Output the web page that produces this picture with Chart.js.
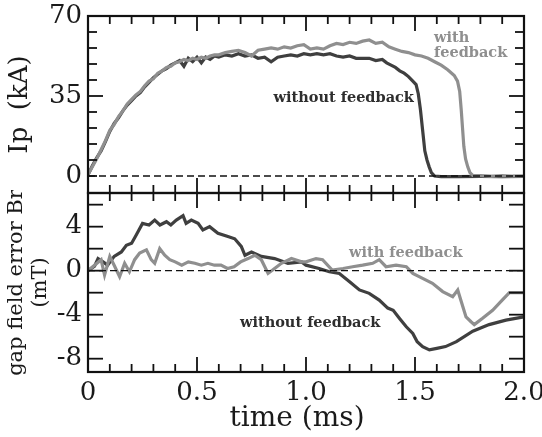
<!DOCTYPE html>
<html>
<head>
<meta charset="utf-8">
<script src="https://cdn.jsdelivr.net/npm/chart.js@4/dist/chart.umd.min.js"></script>
<style>
  html, body { margin: 0; padding: 0; background: #fff; }
  #wrap { position: relative; width: 542px; height: 437px; }
  #wrap canvas { position: absolute; left: 0; }
  #cv-ip { top: 0; }
  #cv-br { top: 190px; }
</style>
</head>
<body>
<div id="wrap">
  <canvas id="cv-ip" width="542" height="196"></canvas>
  <canvas id="cv-br" width="542" height="247"></canvas>
</div>
<script>
// ── Data ─────────────────────────────────────────────────
const ipTimeWithout = [0, 0.02, 0.04, 0.06, 0.08, 0.10, 0.12, 0.14, 0.16, 0.18, 0.20, 0.22, 0.24, 0.26, 0.28, 0.30, 0.32, 0.34, 0.36, 0.38, 0.40, 0.42, 0.44, 0.46, 0.48, 0.50, 0.52, 0.54, 0.56, 0.58, 0.60, 0.63, 0.66, 0.69, 0.72, 0.75, 0.78, 0.81, 0.84, 0.87, 0.90, 0.93, 0.96, 0.99, 1.02, 1.05, 1.08, 1.11, 1.14, 1.17, 1.20, 1.23, 1.26, 1.29, 1.32, 1.35, 1.37, 1.39, 1.41, 1.43, 1.45, 1.47, 1.49, 1.505, 1.515, 1.525, 1.535, 1.545, 1.555, 1.565, 1.575, 1.59, 1.62, 1.70, 1.80, 1.90, 2.00];
const ipWithout = [0.5, 4.5, 8, 11, 15, 19.5, 23, 25.5, 28.5, 31, 33, 35, 36.5, 39, 41, 43, 44.5, 46, 47, 48.5, 49.5, 50.5, 48, 51.5, 50, 52, 49.5, 52, 51, 52.5, 52, 53, 52.5, 53.5, 52.5, 53, 51.5, 52, 50, 52, 52.5, 53, 52.5, 53.5, 53, 53.5, 53, 53.5, 52.5, 52, 52.5, 51.5, 51.5, 51.5, 50.5, 51, 49.5, 48.5, 47.5, 46, 45, 43.5, 41.5, 40, 36, 29, 20, 11, 7, 4, 1.5, 0, -0.3, -0.3, -0.2, -0.3, -0.2];

const ipTimeWith = [0, 0.02, 0.04, 0.06, 0.08, 0.10, 0.12, 0.14, 0.16, 0.18, 0.20, 0.22, 0.24, 0.26, 0.28, 0.30, 0.32, 0.34, 0.36, 0.38, 0.40, 0.42, 0.44, 0.46, 0.48, 0.50, 0.52, 0.54, 0.56, 0.58, 0.60, 0.63, 0.66, 0.69, 0.72, 0.75, 0.78, 0.81, 0.84, 0.87, 0.90, 0.93, 0.96, 0.99, 1.02, 1.05, 1.08, 1.11, 1.14, 1.17, 1.20, 1.23, 1.26, 1.29, 1.32, 1.35, 1.38, 1.41, 1.44, 1.47, 1.50, 1.53, 1.56, 1.59, 1.62, 1.65, 1.68, 1.695, 1.705, 1.712, 1.718, 1.724, 1.732, 1.742, 1.752, 1.765, 1.80, 1.85, 1.90, 1.95, 2.00];
const ipWith = [0.5, 4, 7.5, 11.5, 15.5, 20, 22.5, 26, 28.5, 31.5, 33.5, 35.5, 37, 39.5, 41.5, 42.5, 45, 46, 47.5, 48, 49.5, 50, 51, 50.5, 51.5, 51, 52, 51.5, 52.5, 53, 53, 54, 54.5, 55, 54, 52.5, 55, 55.5, 56, 55.5, 56.5, 56, 57, 57.5, 55.5, 56, 55.5, 57, 58, 57.5, 58.5, 58, 59, 59.5, 58, 58.5, 56.5, 55.5, 54.5, 54, 53, 52.5, 51.5, 50, 48.5, 46.5, 44, 41.5, 37, 29, 21, 13, 7.5, 4, 1.5, 0.3, 0.2, -0.2, 0.2, -0.1, 0];

const brTimeWithout = [0, 0.03, 0.046, 0.069, 0.09, 0.12, 0.153, 0.176, 0.20, 0.22, 0.25, 0.28, 0.306, 0.33, 0.36, 0.38, 0.405, 0.436, 0.45, 0.474, 0.505, 0.527, 0.558, 0.596, 0.642, 0.673, 0.703, 0.72, 0.75, 0.795, 0.856, 0.917, 0.98, 1.0, 1.06, 1.107, 1.153, 1.20, 1.245, 1.29, 1.336, 1.375, 1.40, 1.43, 1.46, 1.49, 1.51, 1.535, 1.566, 1.60, 1.64, 1.69, 1.765, 1.84, 1.917, 2.0];
const brWithout = [0, 0.4, 1.1, 0.8, 0.5, 1.3, 1.7, 2.3, 2.5, 3.2, 4.3, 4.15, 4.6, 4.15, 4.45, 4.15, 4.6, 5.0, 4.3, 4.6, 4.3, 3.7, 4.0, 3.4, 3.1, 2.9, 2.2, 1.4, 1.7, 1.3, 1.1, 0.67, 0.8, 0.5, 0.2, -0.1, -0.25, -1.0, -1.75, -2.06, -2.67, -3.4, -3.6, -4.36, -5.1, -5.7, -6.45, -6.9, -7.2, -7.06, -6.9, -6.45, -5.5, -4.9, -4.5, -4.2];

const brTimeWith = [0, 0.03, 0.06, 0.076, 0.10, 0.12, 0.145, 0.168, 0.19, 0.214, 0.237, 0.268, 0.29, 0.306, 0.329, 0.352, 0.375, 0.40, 0.43, 0.46, 0.49, 0.52, 0.55, 0.58, 0.61, 0.64, 0.67, 0.70, 0.734, 0.765, 0.795, 0.826, 0.856, 0.887, 0.933, 0.98, 1.0, 1.046, 1.076, 1.12, 1.17, 1.214, 1.26, 1.306, 1.336, 1.367, 1.413, 1.46, 1.49, 1.535, 1.58, 1.627, 1.673, 1.696, 1.71, 1.734, 1.757, 1.772, 1.81, 1.856, 1.90, 1.933, 2.0];
const brWith = [0, 0.5, 1.0, -0.4, 1.3, 0.5, -0.55, 0.67, -0.1, 1.0, 1.6, 1.9, 1.0, 0.67, 2.0, 1.4, 1.0, 0.8, 0.5, 0.8, 0.67, 0.5, 0.67, 0.5, 0.5, 0.2, 0.36, 0.8, 1.1, 1.4, 1.0, -0.25, 0.2, 0.67, 1.1, 0.8, 0.8, 1.1, 1.0, 0.06, 0.2, 0.36, 0.5, 0.67, 1.0, 0.36, 0.5, 0.36, -0.25, -0.7, -1.15, -1.9, -2.36, -1.76, -2.67, -4.2, -4.64, -4.9, -4.33, -3.6, -2.67, -2.0, -2.0];

// axis ticks
const timeLabels = [0, 0.5, 1.0, 1.5, 2.0];
const timeMinor = [0.1, 0.2, 0.3, 0.4, 0.6, 0.7, 0.8, 0.9, 1.1, 1.2, 1.3, 1.4, 1.6, 1.7, 1.8, 1.9];
const timeMajor = [0.5, 1.0, 1.5];
const ipLabels = [0, 35, 70];
const ipMinor = [0, 7, 14, 21, 28, 42, 49, 56, 63];
const ipMajor = [35];
const brLabels = [-8, -4, 0, 4];
const brMinor = [];
const brMajor = [6, 4, 2, 0, -2, -4, -6, -8];

const DARK = "#3f3f3f";
const LIGHT = "#8f8f8f";
const SERIF = "'DejaVu Serif', serif";

Chart.defaults.font.family = SERIF;
Chart.defaults.color = "#1a1a1a";

function pts(xs, ys) {
  return xs.map((t, i) => ({ x: t, y: ys[i] }));
}

// inward ticks on all four sides + frame
const frameTicks = {
  id: "frameTicks",
  afterDatasetsDraw(chart, args, opts) {
    const { ctx, chartArea: a } = chart;
    const xs = chart.scales.x, ys = chart.scales.y;
    ctx.save();
    ctx.strokeStyle = "#111";
    ctx.lineWidth = 1.8;
    const seg = (x1, y1, x2, y2) => { ctx.beginPath(); ctx.moveTo(x1, y1); ctx.lineTo(x2, y2); ctx.stroke(); };
    const xTick = (v, len) => {
      const p = xs.getPixelForValue(v);
      seg(p, a.top, p, a.top + len);
      seg(p, a.bottom, p, a.bottom - len);
    };
    const yTick = (v, len) => {
      const p = ys.getPixelForValue(v);
      seg(a.left, p, a.left + len, p);
      seg(a.right, p, a.right - len, p);
    };
    opts.xMinor.forEach(v => xTick(v, 8));
    opts.xMajor.forEach(v => xTick(v, 15));
    opts.yMinor.forEach(v => yTick(v, 9));
    opts.yMajor.forEach(v => yTick(v, 15));
    ctx.lineWidth = 2.2;
    ctx.strokeRect(a.left, a.top, a.right - a.left, a.bottom - a.top);
    ctx.restore();
  }
};

// curve labels placed in data coordinates
const curveLabels = {
  id: "curveLabels",
  afterDatasetsDraw(chart, args, opts) {
    const { ctx } = chart;
    const xs = chart.scales.x, ys = chart.scales.y;
    ctx.save();
    ctx.font = "bold 14.5px " + SERIF;
    ctx.textBaseline = "middle";
    opts.items.forEach(it => {
      ctx.fillStyle = it.color;
      ctx.textAlign = it.align;
      ctx.fillText(it.text, xs.getPixelForValue(it.x), ys.getPixelForValue(it.y));
    });
    ctx.restore();
  }
};

function zeroLine() {
  return {
    data: [{ x: 0, y: 0 }, { x: 2, y: 0 }],
    borderColor: "#111",
    borderWidth: 1.4,
    borderDash: [7, 4],
    pointRadius: 0
  };
}

function curve(data, color) {
  return { data, borderColor: color, borderWidth: 3.2, pointRadius: 0, tension: 0 };
}

// axis boxes are fixed so both panels share the same plot frame
function noPad(s) {
  s.paddingTop = 0; s.paddingBottom = 0; s.paddingLeft = 0; s.paddingRight = 0;
}

function yAxis(min, max, labels, title, titleFont, titlePad) {
  return {
    type: "linear",
    min, max,
    afterFit: s => { s.width = 88; noPad(s); },
    afterBuildTicks: s => { s.ticks = labels.map(v => ({ value: v })); },
    grid: { display: false, drawTicks: false },
    border: { display: false },
    ticks: { font: { size: 26 }, padding: 6, color: "#1a1a1a" },
    title: { display: true, text: title, font: titleFont, padding: titlePad, color: "#1a1a1a" }
  };
}

// ── Top panel: plasma current ──────────────────────────
new Chart(document.getElementById("cv-ip"), {
  type: "line",
  data: {
    datasets: [
      zeroLine(),
      curve(pts(ipTimeWith, ipWith), LIGHT),
      curve(pts(ipTimeWithout, ipWithout), DARK)
    ]
  },
  options: {
    responsive: false,
    animation: false,
    layout: { padding: { top: 16, right: 18, bottom: 3, left: 0 } },
    scales: {
      x: { type: "linear", min: 0, max: 2, display: false },
      y: yAxis(-7.44, 70, ipLabels, "Ip  (kA)", { size: 26, lineHeight: 1.2 }, { top: 5, bottom: 0 })
    },
    plugins: {
      legend: { display: false },
      tooltip: { enabled: false },
      frameTicks: { xMinor: timeMinor, xMajor: timeMajor, yMinor: ipMinor, yMajor: ipMajor },
      curveLabels: {
        items: [
          { text: "without feedback", x: 1.495, y: 34, align: "right", color: "#2e2e2e" },
          { text: "with", x: 1.587, y: 60.4, align: "left", color: LIGHT },
          { text: "feedback", x: 1.587, y: 53.6, align: "left", color: LIGHT }
        ]
      }
    }
  },
  plugins: [frameTicks, curveLabels]
});

// ── Bottom panel: gap field error ───────────────────────
new Chart(document.getElementById("cv-br"), {
  type: "line",
  data: {
    datasets: [
      zeroLine(),
      curve(pts(brTimeWith, brWith), LIGHT),
      curve(pts(brTimeWithout, brWithout), DARK)
    ]
  },
  options: {
    responsive: false,
    animation: false,
    layout: { padding: { top: 3, right: 18, bottom: 0, left: 0 } },
    scales: {
      x: {
        type: "linear",
        min: 0, max: 2,
        afterFit: s => { s.height = 65; noPad(s); },
        afterBuildTicks: s => { s.ticks = timeLabels.map(v => ({ value: v })); },
        grid: { display: false, drawTicks: false },
        border: { display: false },
        ticks: {
          font: { size: 26 }, padding: 6, color: "#1a1a1a", maxRotation: 0,
          callback: v => (v === 0 ? "0" : v.toFixed(1))
        },
        title: { display: true, text: "time (ms)\u00a0\u00a0", font: { size: 28, lineHeight: 1.2 }, padding: { top: 0, bottom: 1 }, color: "#1a1a1a" }
      },
      y: yAxis(-9.21, 7.06, brLabels, ["gap field error Br", "(mT)"], { size: 21, lineHeight: 1.15 }, { top: 4, bottom: 0 })
    },
    plugins: {
      legend: { display: false },
      tooltip: { enabled: false },
      frameTicks: { xMinor: timeMinor, xMajor: timeMajor, yMinor: brMinor, yMajor: brMajor },
      curveLabels: {
        items: [
          { text: "with feedback", x: 1.197, y: 1.6, align: "left", color: LIGHT },
          { text: "without feedback", x: 0.697, y: -4.75, align: "left", color: "#2e2e2e" }
        ]
      }
    }
  },
  plugins: [frameTicks, curveLabels]
});
</script>
</body>
</html>
